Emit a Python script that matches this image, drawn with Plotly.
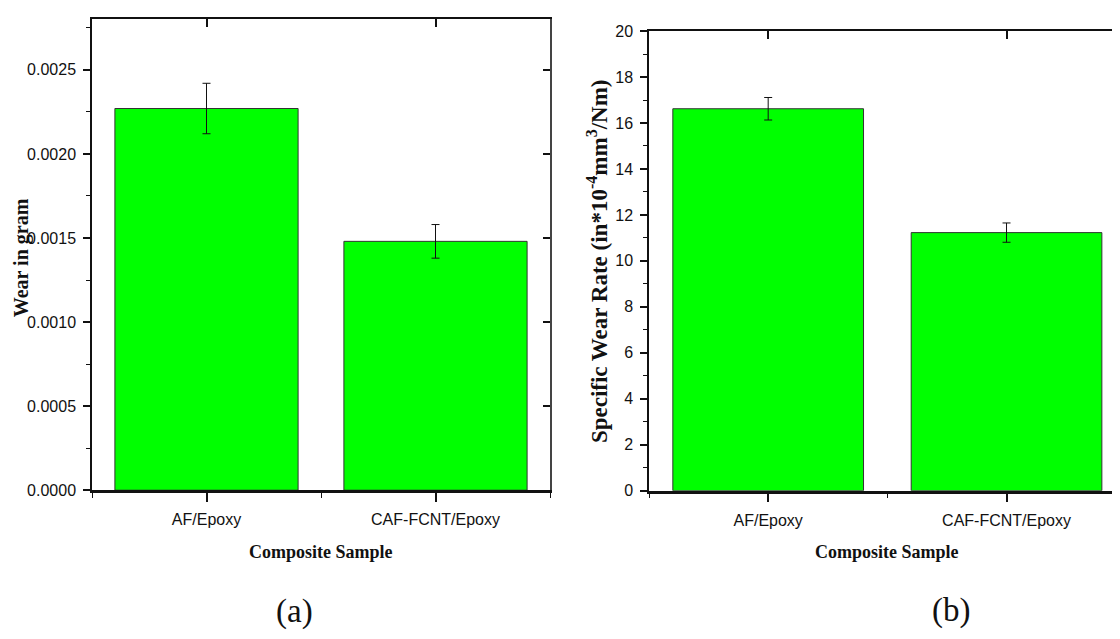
import plotly.graph_objects as go

# ---- data ----
categories = ["AF/Epoxy", "CAF-FCNT/Epoxy"]
wear_gram = [0.00227, 0.00148]
wear_gram_err = [0.00015, 0.00010]
specific_wear_rate = [16.62, 11.23]
specific_wear_rate_err = [0.49, 0.42]

# The default HTML page has an 8px body margin; size the figure so that
# figure + margins exactly fills the 1120x639 window.
PAGE_W, PAGE_H, BODY_M = 1120, 639, 8
FW, FH = PAGE_W - 2 * BODY_M, PAGE_H - 2 * BODY_M

TICK_FONT = dict(family="Arial, Liberation Sans, sans-serif", size=16, color="#111")
TITLE_FONT = dict(family="Times New Roman, Liberation Serif, serif", size=18, color="#111")
BAR_COLOR = "#00FF00"
xpos = list(range(len(categories)))

def px(x):
    """window pixel x -> paper fraction"""
    return (x - BODY_M) / FW

def py(y):
    """window pixel y -> paper fraction"""
    return 1 - (y - BODY_M) / FH

fig = go.Figure()

bar_common = dict(marker=dict(color=BAR_COLOR, line=dict(color="#333333", width=1)),
                  width=0.8, showlegend=False, hoverinfo="x+y")

fig.add_trace(go.Bar(x=xpos, y=wear_gram,
                     error_y=dict(type="data", array=wear_gram_err, color="#111",
                                  thickness=1, width=4),
                     xaxis="x", yaxis="y", **bar_common))
fig.add_trace(go.Bar(x=xpos, y=specific_wear_rate,
                     error_y=dict(type="data", array=specific_wear_rate_err, color="#111",
                                  thickness=1, width=4),
                     xaxis="x2", yaxis="y2", **bar_common))
# empty traces hosting the mirrored (inward-tick) frame axes
fig.add_trace(go.Scatter(x=[], y=[], xaxis="x3", yaxis="y3", showlegend=False))
fig.add_trace(go.Scatter(x=[], y=[], xaxis="x4", yaxis="y2", showlegend=False))

xr1 = [-0.5, 1.5]
yr1 = [0, 0.0028]
# right panel is cut off at the image edge
right_edge = PAGE_W - BODY_M
full2 = 1125.7 - 649
xr2 = [-0.5, -0.5 + 2 * (right_edge - 649) / full2]
yr2 = [0, 20]

base_x = dict(tickmode="array", tickvals=xpos, ticktext=categories, ticks="outside",
              ticklen=9, tickwidth=1.5, tickcolor="#111", showline=True, linecolor="#111",
              linewidth=2.5, tickfont=TICK_FONT, showgrid=False, zeroline=False,
              ticklabelstandoff=4,
              minor=dict(tickmode="linear", tick0=0.5, dtick=1, ticks="outside",
                         ticklen=5, tickwidth=1.2, tickcolor="#111"))

fig.update_layout(
    width=FW, height=FH, autosize=False,
    margin=dict(l=0, r=0, t=0, b=0),
    paper_bgcolor="white", plot_bgcolor="white",
    bargap=0.2, showlegend=False,
    xaxis=dict(domain=[px(92), px(550)], range=xr1, anchor="y", **base_x),
    yaxis=dict(domain=[py(495.5), py(11.5)], range=yr1, anchor="x",
               tickmode="linear", tick0=0, dtick=0.0005, tickformat=".4f",
               ticks="outside", ticklen=7, tickwidth=1.5, tickcolor="#111",
               showline=True, linecolor="#111", linewidth=1.5,
               tickfont=TICK_FONT, showgrid=False, zeroline=False, ticklabelstandoff=4,
               minor=dict(dtick=0.00025, ticks="outside", ticklen=4, tickwidth=1.2,
                          tickcolor="#111")),
    xaxis3=dict(overlaying="x", side="top", anchor="y", range=xr1, tickmode="array",
                tickvals=xpos, ticks="inside", ticklen=8, tickwidth=1.5, tickcolor="#111",
                showticklabels=False, showline=True, linecolor="#111", linewidth=1.5,
                showgrid=False, zeroline=False),
    yaxis3=dict(overlaying="y", side="right", anchor="x", range=yr1, tickmode="linear",
                tick0=0, dtick=0.0005, ticks="inside", ticklen=7, tickwidth=1.5,
                tickcolor="#111", showticklabels=False, showline=True, linecolor="#444",
                linewidth=1.5, showgrid=False, zeroline=False),
    xaxis2=dict(domain=[px(649), 1.0], range=xr2, anchor="y2", **base_x),
    yaxis2=dict(domain=[py(496), py(23.5)], range=yr2, anchor="x2",
                tickmode="linear", tick0=0, dtick=2,
                ticks="outside", ticklen=7, tickwidth=1.5, tickcolor="#111",
                showline=True, linecolor="#111", linewidth=1.5,
                tickfont=TICK_FONT, showgrid=False, zeroline=False, ticklabelstandoff=4,
                minor=dict(dtick=1, ticks="outside", ticklen=4, tickwidth=1.2,
                           tickcolor="#111")),
    xaxis4=dict(overlaying="x2", side="top", anchor="y2", range=xr2, tickmode="array",
                tickvals=xpos, ticks="inside", ticklen=8, tickwidth=1.5, tickcolor="#111",
                showticklabels=False, showline=True, linecolor="#111", linewidth=1.5,
                showgrid=False, zeroline=False),
)

ann = []
# axis titles
ann.append(dict(text="<b>Composite Sample</b>", x=px(321), y=py(559), xref="paper", yref="paper",
                showarrow=False, font=TITLE_FONT, xanchor="center", yanchor="middle"))
ann.append(dict(text="<b>Composite Sample</b>", x=px(887), y=py(559), xref="paper", yref="paper",
                showarrow=False, font=TITLE_FONT, xanchor="center", yanchor="middle"))
ann.append(dict(text="<b>Wear in gram</b>", x=px(21), y=py(257), xref="paper", yref="paper",
                showarrow=False, font=dict(TITLE_FONT, size=20), textangle=-90,
                xanchor="center", yanchor="middle"))
ann.append(dict(text="<b>Specific Wear Rate (in*10<sup>-4</sup>mm<sup>3</sup>/Nm)</b>",
                x=px(597), y=py(260), xref="paper", yref="paper",
                showarrow=False, font=dict(TITLE_FONT, size=23), textangle=-90,
                xanchor="center", yanchor="middle"))
# panel labels
ann.append(dict(text="(a)", x=px(294), y=py(620), xref="paper", yref="paper", showarrow=False,
                font=dict(family="Times New Roman, Liberation Serif, serif", size=33, color="#111"),
                xanchor="center", yanchor="middle"))
ann.append(dict(text="(b)", x=px(951), y=py(619), xref="paper", yref="paper", showarrow=False,
                font=dict(family="Times New Roman, Liberation Serif, serif", size=33, color="#111"),
                xanchor="center", yanchor="middle"))
fig.update_layout(annotations=ann)

fig.write_html("out.html", config={"displayModeBar": False})
